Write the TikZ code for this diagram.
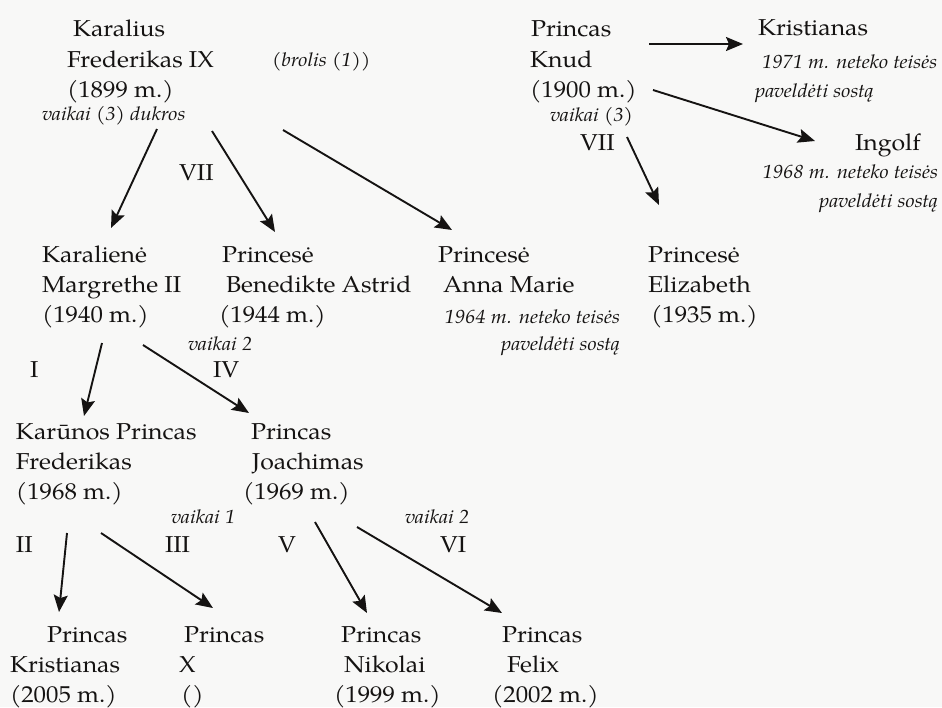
\documentclass[tikz,border=0pt]{standalone}
\usepackage{fontspec}
\setmainfont{TeX Gyre Pagella}[FakeStretch=1.08]
\usetikzlibrary{arrows.meta,calc}
\definecolor{bgc}{HTML}{F8F8F7}
\definecolor{ink}{HTML}{151312}
\begin{document}
\begin{tikzpicture}[x=1pt,y=-1pt,
  nm/.style={anchor=base west,inner sep=0pt,outer sep=0pt,text=ink,font=\fontsize{23}{28}\selectfont},
  nmr/.style={nm,anchor=base east},
  it/.style={anchor=base west,inner sep=0pt,outer sep=0pt,text=ink,font=\fontsize{19}{22}\selectfont\itshape},
  itr/.style={it,anchor=base east},
  arr/.style={draw=ink,line width=1.9pt,-{Stealth[length=17pt,width=14pt,inset=3pt]}}]
\useasboundingbox (0,0) rectangle (942,707);
\fill[bgc] (0,0) rectangle (942,707);
% top left
\node[nm] (k9a) at (73,36) {Karalius};
\node[nm] (k9b) at (67,67) {Frederikas IX};
\node[nm] (k9c) at (67,97) {(1899 m.)};
\node[it] (k9v) at (42,120) {vaikai (3) dukros};
\node[it] (brolis) at (272,66) {(brolis (1))};
\node[nm] (vii1) at (179,180) {VII};
% Knud
\node[nm] (kn1) at (531,36) {Princas};
\node[nm] (kn2) at (530,67) {Knud};
\node[nm] (kn3) at (530,97) {(1900 m.)};
\node[it] (knv) at (550,121) {vaikai (3)};
\node[nm] (vii2) at (580,150) {VII};
% Kristianas
\node[nm] (kr1) at (758,35) {Kristianas};
\node[it] (kr2) at (762,68) {1971 m. neteko teisės};
\node[it] (kr3) at (755,97) {paveldėti sostą};
% Ingolf
\node[nm] (in1) at (855,150) {Ingolf};
\node[itr] (in2) at (938,178) {1968 m. neteko teisės};
\node[itr] (in3) at (938,207) {paveldėti sostą};
% row 2
\node[nm] (mg1) at (42,262) {Karalienė};
\node[nm] (mg2) at (42,292) {Margrethe II};
\node[nm] (mg3) at (42,322) {(1940 m.)};
\node[nm] (ba1) at (222,262) {Princesė};
\node[nm] (ba2) at (226,292) {Benedikte Astrid};
\node[nm] (ba3) at (219,322) {(1944 m.)};
\node[nm] (am1) at (438,262) {Princesė};
\node[nm] (am2) at (443,292) {Anna Marie};
\node[itr] (am3) at (620,323) {1964 m. neteko teisės};
\node[itr] (am4) at (620,350) {paveldėti sostą};
\node[nm] (el1) at (648,262) {Princesė};
\node[nm] (el2) at (648,292) {Elizabeth};
\node[nm] (el3) at (651,322) {(1935 m.)};
\node[it] (v2a) at (188,350) {vaikai 2};
\node[nm] (rI) at (30,377) {I};
\node[nm] (rIV) at (213,377) {IV};
% row 3
\node[nm] (fr1) at (16,439) {Karūnos Princas};
\node[nm] (fr2) at (16,469) {Frederikas};
\node[nm] (fr3) at (16,499) {(1968 m.)};
\node[nm] (jo1) at (251,439) {Princas};
\node[nm] (jo2) at (252,469) {Joachimas};
\node[nm] (jo3) at (243,499) {(1969 m.)};
\node[it] (v1) at (171,523) {vaikai 1};
\node[nm] (rII) at (16,552) {II};
\node[nm] (rIII) at (165,552) {III};
\node[nm] (rV) at (278,552) {V};
\node[it] (v2b) at (405,523) {vaikai 2};
\node[nm] (rVI) at (440,552) {VI};
% bottom row
\node[nm] (kc1) at (47,642) {Princas};
\node[nm] (kc2) at (10,672) {Kristianas};
\node[nm] (kc3) at (10,702) {(2005 m.)};
\node[nm] (x1) at (184,642) {Princas};
\node[nm] (x2) at (179,672) {X};
\node[nm] (x3) at (181,702) {()};
\node[nm] (ni1) at (341,642) {Princas};
\node[nm] (ni2) at (344,672) {Nikolai};
\node[nm] (ni3) at (334,702) {(1999 m.)};
\node[nm] (fe1) at (502,642) {Princas};
\node[nm] (fe2) at (507,672) {Felix};
\node[nm] (fe3) at (492,702) {(2002 m.)};
% arrows
\draw[arr] ($(k9v.base west)+(115,9)$) -- ($(mg1.base west)+(69,-34)$);
\draw[arr] ($(k9v.base west)+(170,11)$) -- ($(ba1.base west)+(53,-30)$);
\draw[arr] ($(k9v.base west)+(241,10)$) -- ($(am1.base west)+(14,-32)$);
\draw[arr] ($(kn1.base west)+(118,8)$) -- ($(kr1.base west)+(-15,9)$);
\draw[arr] ($(kn3.base west)+(123,-7)$) -- ($(in1.base west)+(-40,-9)$);
\draw[arr] ($(knv.base west)+(77,16)$) -- ($(el1.base west)+(11,-57)$);
\draw[arr] ($(mg3.base west)+(60,21)$) -- ($(fr1.base west)+(68,-23)$);
\draw[arr] ($(mg3.base west)+(101,23)$) -- ($(jo1.base west)+(-2,-26)$);
\draw[arr] ($(fr3.base west)+(51,34)$) -- ($(kc1.base west)+(12,-30)$);
\draw[arr] ($(fr3.base west)+(85,34)$) -- ($(x1.base west)+(29,-34)$);
\draw[arr] ($(jo3.base west)+(72,23)$) -- ($(ni1.base west)+(26,-29)$);
\draw[arr] ($(jo3.base west)+(114,28)$) -- ($(fe1.base west)+(0,-29)$);
\end{tikzpicture}
\end{document}
